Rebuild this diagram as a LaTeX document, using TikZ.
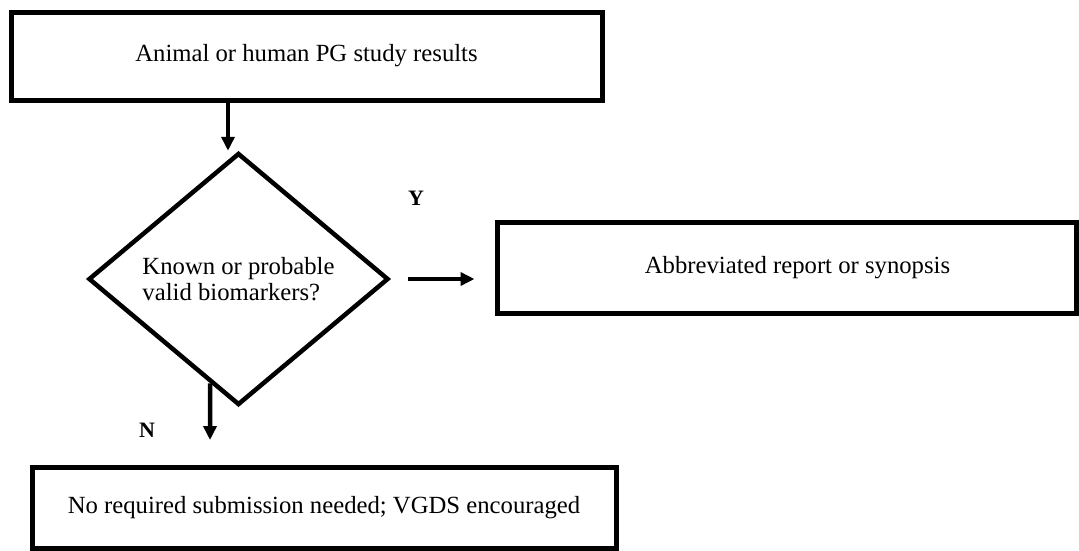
\documentclass[tikz,border=0pt]{standalone}
\usepackage{fontspec}
\setmainfont{Liberation Serif}
\usetikzlibrary{shapes.geometric,arrows.meta,calc}
\tikzset{
  box/.style={draw, line width=5pt, rectangle, inner sep=0pt, font=\fontsize{24.7}{29}\selectfont},
  dec/.style={draw, line width=4.5pt, diamond, aspect=1.19, inner sep=0pt, minimum width=300pt, minimum height=252pt, font=\fontsize{24.7}{29}\selectfont},
  arr/.style={line width=4.5pt, -{Triangle[length=14pt,width=13pt]}},
  lbl/.style={font=\fontsize{22}{26}\selectfont\bfseries, inner sep=0pt}
}
\begin{document}
\begin{tikzpicture}[x=1pt,y=-1pt]
\useasboundingbox (0,0) rectangle (1079,550);
\node[box, minimum width=591pt, minimum height=88pt] (top) at (306.5,56) {Animal or human PG study results};
\node[dec] (dia) at (238.5,279) {\raisebox{-6pt}{\shortstack[l]{Known or probable\\valid biomarkers?}}};
\node[box, minimum width=579pt, minimum height=91pt] (rb) at (786.5,267.5) {\hspace*{22pt}Abbreviated report or synopsis};
\node[box, minimum width=584pt, minimum height=81pt] (bb) at (324,507.5) {No required submission needed; VGDS encouraged};
\node[lbl] (ylab) at (416,198) {Y};
\node[lbl] (nlab) at (147,430) {N};
\coordinate (a1) at (228,0);
\coordinate (a2) at (210,0);
\coordinate (a2end) at (210,440);
\draw[arr] (a1 |- top.south) -- (a1 |- dia.north);
\draw[arr] (intersection of dia.west--dia.south and a2--a2end) -- (a2end);
\draw[arr] ([xshift=17pt]dia.east) -- ([xshift=-20pt]rb.west |- dia.east);
\end{tikzpicture}
\end{document}
